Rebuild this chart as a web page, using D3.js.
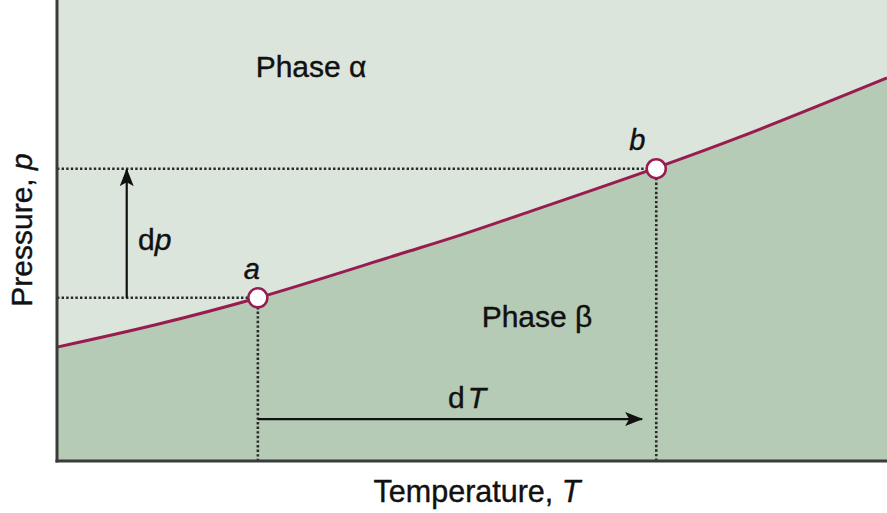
<!DOCTYPE html>
<html><head><meta charset="utf-8">
<script src="https://cdn.jsdelivr.net/npm/d3@7/dist/d3.min.js"></script>
<style>html,body{margin:0;padding:0;background:#fff;}svg{display:block;}</style>
</head><body>
<script>
// Data (abstract units)
const temperature = [0, 1.2, 2.42, 4.13, 4.86, 5.58, 7.22, 8.23, 10];
const pressure    = [2.47, 2.96, 3.54, 4.49, 4.90, 5.34, 6.36, 7.03, 8.31];
const pointLabels = ["a", "b"];
const pointT = [2.42, 7.22];
const pointP = [3.54, 6.34];
const dpArrowT = 0.84;
const dTArrowP = 0.91;
const dTArrowEnd = 7.05;
const dpArrowEnd = 6.33;

const W = 887, H = 513;
const x = d3.scaleLinear([0, 10], [57, 887]);
const y = d3.scaleLinear([0, 10], [461, 0]);
const pts = temperature.map((t, i) => [t, pressure[i]]);

const svg = d3.select("body").append("svg").attr("width", W).attr("height", H);
const defs = svg.append("defs");
defs.append("marker").attr("id", "arr").attr("viewBox", "0 0 18 14")
  .attr("refX", 17).attr("refY", 7).attr("markerWidth", 18).attr("markerHeight", 14)
  .attr("markerUnits", "userSpaceOnUse").attr("orient", "auto")
  .append("path").attr("d", "M0,0 L18,7 L0,14 L4,7 Z").attr("fill", "#111");

const font = "'Liberation Sans', Arial, Helvetica, sans-serif";

// Upper region
svg.append("path")
  .datum(pts)
  .attr("d", d3.area().x(d => x(d[0])).y0(y(10)).y1(d => y(d[1])).curve(d3.curveCatmullRom))
  .attr("fill", "#dce5dc");
// Lower region
svg.append("path")
  .datum(pts)
  .attr("d", d3.area().x(d => x(d[0])).y0(y(0)).y1(d => y(d[1])).curve(d3.curveCatmullRom))
  .attr("fill", "#b6cbb6");

// Dotted guide lines
const dot = {stroke: "#2a2a2a", "stroke-width": 2.6, "stroke-dasharray": "2.4,2.2"};
pointT.forEach((t, i) => {
  const p = pointP[i];
  const h = svg.append("line").attr("x1", x(0)).attr("x2", x(t)).attr("y1", y(p)).attr("y2", y(p));
  const v = svg.append("line").attr("x1", x(t)).attr("x2", x(t)).attr("y1", y(p)).attr("y2", y(0));
  [h, v].forEach(l => Object.entries(dot).forEach(([k, val]) => l.attr(k, val)));
});

// Curve
svg.append("path")
  .datum(pts)
  .attr("d", d3.line().x(d => x(d[0])).y(d => y(d[1])).curve(d3.curveCatmullRom))
  .attr("fill", "none").attr("stroke", "#981c50").attr("stroke-width", 3);

// Arrows
svg.append("line").attr("x1", x(dpArrowT)).attr("x2", x(dpArrowT))
  .attr("y1", y(pointP[0])).attr("y2", y(dpArrowEnd))
  .attr("stroke", "#111").attr("stroke-width", 2.2).attr("marker-end", "url(#arr)");
svg.append("line").attr("x1", x(pointT[0])).attr("x2", x(dTArrowEnd))
  .attr("y1", y(dTArrowP)).attr("y2", y(dTArrowP))
  .attr("stroke", "#111").attr("stroke-width", 2.2).attr("marker-end", "url(#arr)");

// Axes
svg.append("line").attr("x1", x(0)).attr("x2", x(0)).attr("y1", y(10)).attr("y2", y(0) + 1.5)
  .attr("stroke", "#3a3c3a").attr("stroke-width", 3);
svg.append("line").attr("x1", x(0) - 1.5).attr("x2", x(10)).attr("y1", y(0)).attr("y2", y(0))
  .attr("stroke", "#3a3c3a").attr("stroke-width", 3);

// Points
svg.selectAll("circle.pt").data(pointT).enter().append("circle")
  .attr("cx", d => x(d)).attr("cy", (d, i) => y(pointP[i])).attr("r", 9.5)
  .attr("fill", "#fff").attr("stroke", "#981c50").attr("stroke-width", 2.5);

const txt = sel => sel.attr("font-family", font).attr("fill", "#111")
  .attr("stroke", "#111").attr("stroke-width", 0.4);

// Point labels
svg.selectAll("text.pl").data(pointLabels).enter().append("text")
  .attr("x", (d, i) => x(pointT[i]) - 6 + i * (-13))
  .attr("y", (d, i) => y(pointP[i]) - 19)
  .call(txt).attr("font-style", "italic").attr("font-size", 29)
  .attr("text-anchor", "middle").text(d => d);

// Phase labels
svg.append("text").attr("x", 311).attr("y", 77).attr("text-anchor", "middle")
  .call(txt).attr("font-size", 30).text("Phase \u03B1");
svg.append("text").attr("x", 537).attr("y", 327).attr("text-anchor", "middle")
  .call(txt).attr("font-size", 30).text("Phase \u03B2");

// dp label
const dp = svg.append("text").attr("x", 138).attr("y", 250).call(txt).attr("font-size", 30);
dp.append("tspan").text("d");
dp.append("tspan").attr("font-style", "italic").text("p");

// dT label
const dT = svg.append("text").attr("x", 467).attr("y", 408).attr("text-anchor", "middle")
  .call(txt).attr("font-size", 30);
dT.append("tspan").text("d");
dT.append("tspan").attr("font-style", "italic").attr("dx", 3).text("T");

// Axis titles
const xt = svg.append("text").attr("x", 477).attr("y", 502).attr("text-anchor", "middle")
  .call(txt).attr("font-size", 30.5);
xt.append("tspan").text("Temperature, ");
xt.append("tspan").attr("font-style", "italic").text("T");

const yt = svg.append("text").attr("transform", "translate(32,230) rotate(-90)").attr("text-anchor", "middle")
  .call(txt).attr("font-size", 30);
yt.append("tspan").text("Pressure, ");
yt.append("tspan").attr("font-style", "italic").text("p");
</script>
</body></html>
